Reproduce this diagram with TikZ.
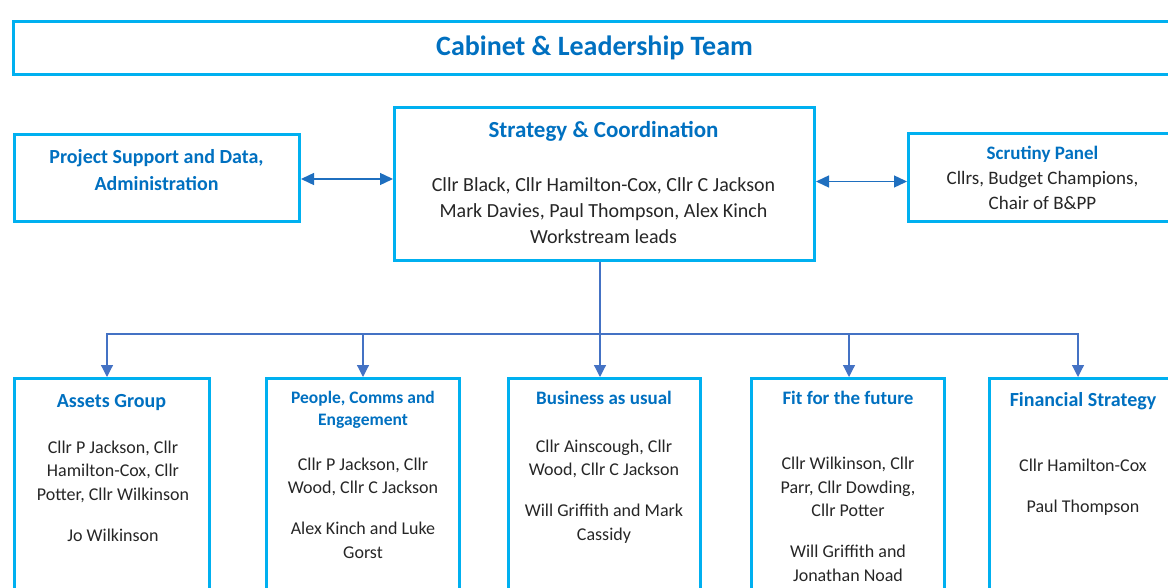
\documentclass[tikz,border=0pt]{standalone}
\usepackage{fontspec}
\setmainfont{Carlito}
\usetikzlibrary{arrows.meta, positioning, calc}

\definecolor{boxcyan}{HTML}{00B0F0}
\definecolor{headblue}{HTML}{0070C0}
\definecolor{linkblue}{HTML}{1F6FBF}
\definecolor{treeblue}{HTML}{4472C4}
\definecolor{namegray}{HTML}{262626}

\newcommand{\fsz}[2]{\fontsize{#1}{#2}\selectfont}

\begin{document}
\begin{tikzpicture}[x=1pt, y=-1pt,
  panel/.style={draw=boxcyan, line width=3pt, inner sep=0pt},
  head/.style={text=headblue, align=center, inner sep=0pt, anchor=base},
  names/.style={text=namegray, align=center, inner sep=0pt, anchor=base},
  link/.style={{Triangle[length=13pt,width=12pt]}-{Triangle[length=13pt,width=12pt]}, draw=linkblue, line width=1.4pt},
  feed/.style={-{Triangle[length=12pt,width=12pt]}, draw=treeblue, line width=1.2pt}]
\useasboundingbox (0,0) rectangle (1168,588);
\clip (0,0) rectangle (1168,588);

% top row
\node[panel, minimum width=1162.5pt, minimum height=53pt, text=headblue, font=\bfseries\fsz{28}{34}] (cabinet) at (594.5,48) {Cabinet \& Leadership Team};

% middle row (text nodes sit on the baseline of their last line)
\node[panel, minimum width=420pt, minimum height=153pt] (strategy) at (604.5,184) {};
\node[head, font=\bfseries\fsz{23}{28}] (stratHead) at (603.5,138) {Strategy \& Coordination};
\node[names, font=\fsz{20}{26}] (stratNames) at (603.5,243.5) {Cllr Black, Cllr Hamilton-Cox, Cllr C Jackson\\Mark Davies, Paul Thompson, Alex Kinch\\Workstream leads};

\node[panel, minimum width=285pt, minimum height=87pt] (ps) at (157,178) {};
\node[head, font=\bfseries\fsz{20}{27}] (psHead) at (156.5,190.5) {Project Support and Data,\\Administration};

\node[panel, minimum width=268pt, minimum height=88pt, align=center, text=namegray, font=\fsz{19}{25}] (scrut) at (1042.5,177.5) {{\bfseries\color{headblue}Scrutiny Panel}\\Cllrs, Budget Champions,\\Chair of B\&PP};

\draw[link] ([yshift=-1pt]ps.east) -- ([yshift=-1pt]ps.east -| strategy.west);
\draw[link] ([yshift=-4pt]scrut.west -| strategy.east) -- ([yshift=-4pt]scrut.west);

% workstreams
\node[panel, minimum width=195pt, minimum height=230pt, anchor=north] (assets) at (112,377) {};
\node[panel, minimum width=193pt, minimum height=230pt, anchor=north] (people) at (363,377) {};
\node[panel, minimum width=192pt, minimum height=230pt, anchor=north] (business) at (604.5,377) {};
\node[panel, minimum width=193pt, minimum height=230pt, anchor=north] (fit) at (848,377) {};
\node[panel, minimum width=187pt, minimum height=230pt, anchor=north] (fin) at (1083,377) {};

\node[head, font=\bfseries\fsz{20}{25}] (assetsHead) at (111.5,407.5) {Assets Group};
\node[names, font=\fsz{18}{23.5}] (assetsNames) at (113,541) {Cllr P Jackson, Cllr\\Hamilton-Cox, Cllr\\Potter, Cllr Wilkinson\\[17.5pt]Jo Wilkinson};

\node[head, font=\bfseries\fsz{17.5}{22}] (peopleHead) at (363,425) {People, Comms and\\Engagement};
\node[names, font=\fsz{18}{23.5}] (peopleNames) at (363,558) {Cllr P Jackson, Cllr\\Wood, Cllr C Jackson\\[17.5pt]Alex Kinch and Luke\\Gorst};

\node[head, font=\bfseries\fsz{19}{24}] (businessHead) at (604,404) {Business as usual};
\node[names, font=\fsz{18}{23.5}] (businessNames) at (604,540) {Cllr Ainscough, Cllr\\Wood, Cllr C Jackson\\[17.5pt]Will Griffith and Mark\\Cassidy};

\node[head, font=\bfseries\fsz{19}{24}] (fitHead) at (848,404) {Fit for the future};
\node[names, font=\fsz{18}{23.5}] (fitNames) at (848,581) {Cllr Wilkinson, Cllr\\Parr, Cllr Dowding,\\Cllr Potter\\[17.5pt]Will Griffith and\\Jonathan Noad};

\node[head, font=\bfseries\fsz{20}{25}] (finHead) at (1083,406.5) {Financial Strategy};
\node[names, font=\fsz{18}{23.5}] (finNames) at (1083,512) {Cllr Hamilton-Cox\\[17.5pt]Paul Thompson};

\coordinate (hub) at (600,334);
\draw[feed, -] (strategy.south -| hub) -- (hub);
\draw[feed] (hub) -| ([xshift=-5pt]assets.north);
\draw[feed] (hub) -| (people.north);
\draw[feed] (hub) -- (hub |- business.north);
\draw[feed] (hub) -| ([xshift=1pt]fit.north);
\draw[feed] (hub) -| ([xshift=-5pt]fin.north);
\end{tikzpicture}
\end{document}
